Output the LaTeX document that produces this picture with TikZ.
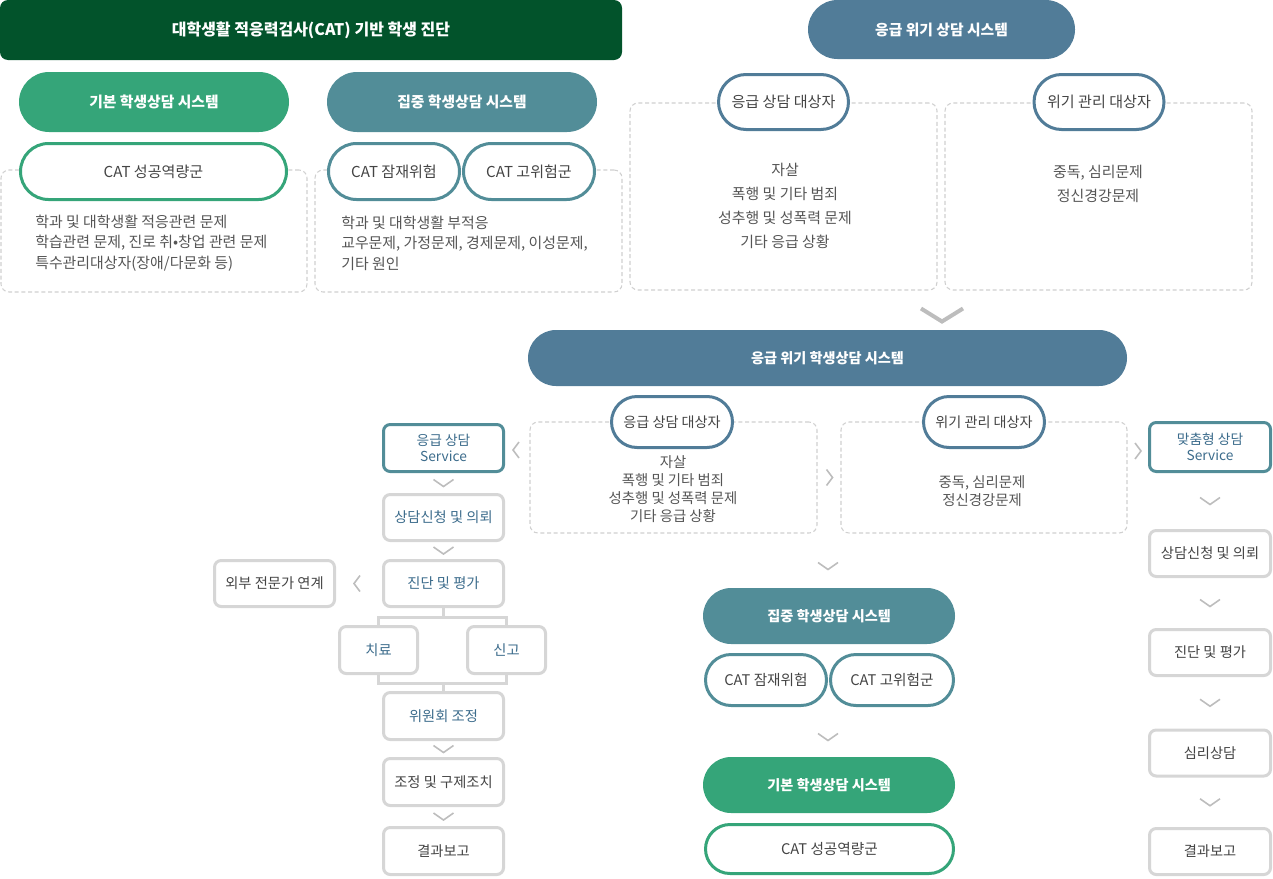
\documentclass[tikz,border=0pt]{standalone}
\usepackage{fontspec}
\setmainfont{Noto Sans CJK KR}
\usetikzlibrary{shapes.misc,calc}
\definecolor{cdgreen}{HTML}{02532B}
\definecolor{cgreen}{HTML}{35A579}
\definecolor{cteal}{HTML}{528D98}
\definecolor{csteel}{HTML}{517C98}
\definecolor{cgrayb}{HTML}{D6D6D6}
\definecolor{cdash}{HTML}{D0D0D0}
\definecolor{ctext}{HTML}{444444}
\definecolor{cbody}{HTML}{555555}
\definecolor{cblue}{HTML}{3C6C8C}
\definecolor{cchev}{HTML}{BDBDBD}
\tikzset{
  sz/.style 2 args={minimum width=#1*0.75pt, minimum height=#2*0.75pt, inner sep=0pt},
  pillfill/.style={rounded rectangle, draw=none, fill=#1, text=white},
  pillline/.style={rounded rectangle, draw=#1, line width=2.25pt, fill=white, text=ctext},
  dbox/.style={rectangle, rounded corners=6pt, draw=cdash, line width=0.8pt, dash pattern=on 3pt off 2pt},
  flowbox/.style={rectangle, rounded corners=5pt, draw=#1, line width=2.25pt, fill=white, align=center},
  branch/.style={draw=cgrayb, line width=2.25pt},
  chevline/.style={draw=cchev, line width=1.2pt},
  chevdown/.pic={\draw[chevline] (-10,-3.5) -- (0,3.5) -- (10,-3.5);},
  chevleft/.pic={\draw[chevline] (3,-8) -- (-3,0) -- (3,8);},
  chevright/.pic={\draw[chevline] (-3,-8) -- (3,0) -- (-3,8);},
  chevbig/.pic={\draw[draw=cchev, line width=3pt] (-21,-6.5) -- (0,6.5) -- (21,-6.5);},
  fbig/.style={font=\bfseries\fontsize{12}{15}\selectfont},
  fpill/.style={font=\bfseries\fontsize{11.1}{14}\selectfont},
  fpillm/.style={font=\bfseries\fontsize{10.6}{13}\selectfont},
  ftop/.style={font=\fontsize{11.3}{14}\selectfont},
  flow2/.style={font=\fontsize{11}{14}\selectfont},
  fmid/.style={font=\fontsize{10.6}{13}\selectfont},
  flow/.style={font=\fontsize{10.7}{12}\selectfont},
}
\begin{document}
\begin{tikzpicture}[x=0.75pt,y=-0.75pt]
\useasboundingbox (0,0) rectangle (1273,878);

% ---------- top left ----------
\node[rectangle, rounded corners=6pt, fill=cdgreen, text=white, sz={622}{60}, fbig] (banner) at (311,30) {대학생활 적응력검사(CAT) 기반 학생 진단};
\node[pillfill=cgreen, sz={270}{60}, fpill] (p1) at (154,102) {기본 학생상담 시스템};
\node[pillfill=cteal, sz={270}{60}, fpill] (p2) at (462,102) {집중 학생상담 시스템};
\node[dbox, sz={306}{122}] (d1) at (154,231) {};
\node[dbox, sz={307}{122}] (d2) at (468.5,231) {};
\node[pillline=cgreen, sz={266}{56}, ftop] (o1) at (153.5,171.5) {CAT 성공역량군};
\node[pillline=cteal, sz={131}{56}, ftop] (o2) at (394,171.5) {CAT 잠재위험};
\node[pillline=cteal, sz={131}{56}, ftop] (o3) at (529,171.5) {CAT 고위험군};
\node[anchor=west, align=left, text=cbody, inner sep=0pt, font=\fontsize{11.2}{15.4}\selectfont] (t1) at (35,243) {학과 및 대학생활 적응관련 문제\\학습관련 문제, 진로 취•창업 관련 문제\\특수관리대상자(장애/다문화 등)};
\node[anchor=west, align=left, text=cbody, inner sep=0pt, font=\fontsize{11.2}{15.4}\selectfont] (t2) at (341,243) {학과 및 대학생활 부적응\\교우문제, 가정문제, 경제문제, 이성문제,\\기타 원인};

% ---------- top right ----------
\node[pillfill=csteel, sz={267}{59}, fpill] (tp) at (941.5,29.5) {응급 위기 상담 시스템};
\node[dbox, sz={307}{187}] (d3) at (783.5,196.5) {};
\node[dbox, sz={307}{187}] (d4) at (1098.5,196.5) {};
\node[pillline=csteel, sz={130}{55}, ftop] (o4) at (783.5,102) {응급 상담 대상자};
\node[pillline=csteel, sz={130}{55}, ftop] (o5) at (1099,102) {위기 관리 대상자};
\node[align=center, text=cbody, inner sep=0pt, font=\fontsize{11.2}{17.8}\selectfont] (t3) at (785,206) {자살\\폭행 및 기타 범죄\\성추행 및 성폭력 문제\\기타 응급 상황};
\node[align=center, text=cbody, inner sep=0pt, font=\fontsize{11.2}{17.8}\selectfont] (t4) at (1098,184) {중독, 심리문제\\정신경강문제};

\pic at (942,315) {chevbig};

% ---------- middle ----------
\node[pillfill=csteel, sz={599}{56}, fpillm] (mp) at (827.5,358) {응급 위기 학생상담 시스템};
\node[dbox, sz={287}{111}] (d5) at (673.5,477.5) {};
\node[dbox, sz={286}{111}] (d6) at (984,477.5) {};
\node[pillline=csteel, sz={121}{51}, fmid] (o6) at (672,422) {응급 상담 대상자};
\node[pillline=csteel, sz={121}{51}, fmid] (o7) at (984,422) {위기 관리 대상자};
\node[align=center, text=cbody, inner sep=0pt, font=\fontsize{10.8}{13.5}\selectfont] (t5) at (673,489) {자살\\폭행 및 기타 범죄\\성추행 및 성폭력 문제\\기타 응급 상황};
\node[align=center, text=cbody, inner sep=0pt, font=\fontsize{10.8}{13.5}\selectfont] (t6) at (982,491) {중독, 심리문제\\정신경강문제};
\pic at (516,450) {chevleft};
\pic at (829.5,477.5) {chevright};
\pic at (1138,451) {chevright};
\pic at (828,566) {chevdown};

% ---------- lower middle ----------
\node[pillfill=cteal, sz={252}{56}, fpillm] (lp) at (829,616) {집중 학생상담 시스템};
\node[pillline=cteal, sz={121}{51}, flow2] (o8) at (766,680) {CAT 잠재위험};
\node[pillline=cteal, sz={123}{51}, flow2] (o9) at (892,680) {CAT 고위험군};
\pic at (828,737) {chevdown};
\node[pillfill=cgreen, sz={252}{56}, fpillm] (bp) at (829,785) {기본 학생상담 시스템};
\node[pillline=cgreen, sz={248}{49}, flow2] (o10) at (829.5,849) {CAT 성공역량군};

% ---------- left flow ----------
\node[flowbox=cteal, sz={120}{47}, text=cblue, font=\fontsize{10.3}{12}\selectfont] (f1) at (443.5,448) {응급 상담\\Service};
\node[flowbox=cgrayb, sz={120}{46}, text=cblue, flow] (f2) at (443.5,517.5) {상담신청 및 의뢰};
\node[flowbox=cgrayb, sz={120}{46}, text=cblue, flow] (f3) at (443.5,583.5) {진단 및 평가};
\node[flowbox=cgrayb, sz={120}{46}, text=ctext, flow] (fx) at (274.5,583.5) {외부 전문가 연계};
\node[flowbox=cgrayb, sz={78}{47}, text=cblue, flow] (fa) at (378.5,650) {치료};
\node[flowbox=cgrayb, sz={78}{47}, text=cblue, flow] (fb) at (506.5,650) {신고};
\node[flowbox=cgrayb, sz={120}{47}, text=cblue, flow] (f5) at (443.5,716) {위원회 조정};
\node[flowbox=cgrayb, sz={120}{47}, text=ctext, flow] (f6) at (443.5,782) {조정 및 구제조치};
\node[flowbox=cgrayb, sz={120}{47}, text=ctext, flow] (f7) at (443.5,851) {결과보고};

\draw[branch] (f3.south) -- ++(0,9) coordinate (bt);
\draw[branch] (fa.north) |- (bt) -| (fb.north);
\draw[branch] (f5.north) -- ++(0,-8) coordinate (bb);
\draw[branch] (fa.south) |- (bb) -| (fb.south);

\pic at ($(f1.south)!0.5!(f2.north)$) {chevdown};
\pic at ($(f2.south)!0.5!(f3.north)$) {chevdown};
\pic at ($(f5.south)!0.5!(f6.north)$) {chevdown};
\pic at ($(f6.south)!0.5!(f7.north)$) {chevdown};
\pic at (357,583.5) {chevleft};

% ---------- right flow ----------
\node[flowbox=cteal, sz={121}{49}, text=cblue, font=\fontsize{10.3}{12}\selectfont] (r1) at (1210,447) {맞춤형 상담\\Service};
\node[flowbox=cgrayb, sz={121}{46}, text=ctext, flow] (r2) at (1210,553.5) {상담신청 및 의뢰};
\node[flowbox=cgrayb, sz={121}{46}, text=ctext, flow] (r3) at (1210,652.5) {진단 및 평가};
\node[flowbox=cgrayb, sz={121}{46}, text=ctext, flow] (r4) at (1210,753) {심리상담};
\node[flowbox=cgrayb, sz={121}{46}, text=ctext, flow] (r5) at (1210,851.5) {결과보고};
\pic at ($(r1.south)!0.5!(r2.north)$) {chevdown};
\pic at ($(r2.south)!0.5!(r3.north)$) {chevdown};
\pic at ($(r3.south)!0.5!(r4.north)$) {chevdown};
\pic at ($(r4.south)!0.5!(r5.north)$) {chevdown};
\end{tikzpicture}
\end{document}
